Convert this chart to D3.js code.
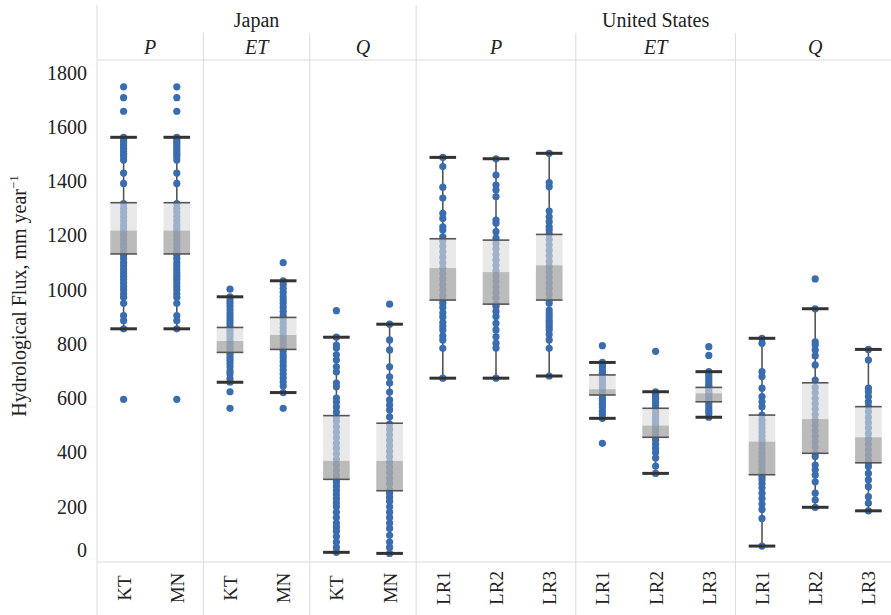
<!DOCTYPE html>
<html><head><meta charset="utf-8">
<script src="https://cdn.jsdelivr.net/npm/d3@7"></script>
<style>body{margin:0;background:#fff}svg{display:block;font-family:"Liberation Serif","DejaVu Serif",serif}</style>
</head><body><svg id="c" width="891" height="615"></svg>
<script>
const groups = ["Japan", "United States"];
const variables = ["P", "ET", "Q"];
const japanSites = ["KT", "MN"];
const usSites = ["LR1", "LR2", "LR3"];
const yTicks = [0, 200, 400, 600, 800, 1000, 1200, 1400, 1600, 1800];

// box statistics, order: Japan P/ET/Q (KT,MN), United States P/ET/Q (LR1,LR2,LR3)
const whiskLo = [856, 856, 659, 621, 32, 28, 674, 674, 682, 526, 323, 530, 55, 198, 185];
const q1      = [1132, 1132, 769, 780, 301, 259, 962, 947, 962, 612, 456, 587, 318, 397, 362];
const median  = [1218, 1218, 811, 833, 369, 369, 1080, 1065, 1090, 633, 499, 618, 440, 523, 456];
const q3      = [1321, 1321, 861, 898, 536, 508, 1188, 1183, 1204, 686, 563, 640, 538, 657, 569];
const whiskHi = [1562, 1562, 974, 1033, 825, 873, 1488, 1483, 1503, 732, 624, 698, 821, 930, 780];

const ptsJP_P_KT = [1748,1708,1658,1562,1555,1546,1538,1530,1520,1510,1500,1490,1478,1430,1392,1318,1300,1285,1270,1255,1240,1228,1215,1200,1185,1170,1155,1140,1128,1115,1100,1088,1075,1062,1050,1038,1025,1012,1000,985,972,950,905,886,856,596];
const ptsJP_P_MN = [1748,1708,1658,1562,1555,1546,1538,1530,1520,1510,1500,1490,1478,1430,1392,1318,1300,1285,1270,1255,1240,1228,1215,1200,1185,1170,1155,1140,1128,1115,1100,1088,1075,1062,1050,1038,1025,1012,1000,985,972,950,905,886,856,596];
const ptsJP_ET_KT = [1002,974,962,950,938,925,912,900,888,875,862,850,838,825,812,800,788,775,762,750,740,728,715,700,690,672,659,624,563];
const ptsJP_ET_MN = [1100,1033,1020,1005,990,975,962,950,935,920,905,890,875,860,845,830,815,800,788,775,760,748,735,720,705,690,675,660,645,621,563];
const ptsJP_Q_KT = [923,825,796,785,760,741,716,697,656,642,601,586,568,549,531,515,495,475,455,435,415,395,375,355,335,315,300,290,275,260,245,230,215,200,180,160,140,125,110,90,70,50,32];
const ptsJP_Q_MN = [947,873,815,778,716,679,656,623,594,575,557,531,505,485,465,445,425,405,385,365,345,325,305,285,262,250,235,220,200,180,160,140,120,95,70,50,28];
const ptsUS_P_LR1 = [1488,1454,1378,1338,1282,1263,1232,1220,1195,1180,1160,1140,1120,1100,1080,1060,1040,1020,1000,980,962,950,935,915,900,879,865,852,830,815,784,674];
const ptsUS_P_LR2 = [1483,1423,1386,1368,1343,1257,1245,1214,1190,1170,1150,1130,1110,1090,1070,1050,1030,1010,990,970,947,938,920,901,876,852,827,803,785,674];
const ptsUS_P_LR3 = [1503,1395,1380,1290,1269,1251,1232,1220,1205,1185,1165,1145,1125,1105,1085,1065,1045,1025,1005,985,962,950,925,912,901,888,876,864,852,835,815,784,682];
const ptsUS_ET_LR1 = [794,732,722,712,700,690,680,670,660,650,640,630,620,612,600,590,578,566,552,540,526,434];
const ptsUS_ET_LR2 = [773,624,615,605,596,585,575,563,550,540,530,520,510,500,490,478,466,456,445,430,415,400,380,350,323];
const ptsUS_ET_LR3 = [790,758,698,688,678,668,658,648,638,630,622,614,606,598,590,580,568,556,545,530];
const ptsUS_Q_LR1 = [821,803,698,680,637,606,587,569,538,520,505,490,475,460,445,430,415,400,385,370,355,340,325,311,300,285,270,250,230,210,190,157,55];
const ptsUS_Q_LR2 = [1040,930,808,796,778,756,723,667,640,620,600,580,560,540,520,500,480,460,440,420,397,385,354,336,317,292,250,225,198];
const ptsUS_Q_LR3 = [780,741,637,624,606,587,569,550,530,510,490,470,450,430,410,390,370,362,348,323,299,274,237,213,185];

const pointLists = [ptsJP_P_KT, ptsJP_P_MN, ptsJP_ET_KT, ptsJP_ET_MN, ptsJP_Q_KT, ptsJP_Q_MN,
  ptsUS_P_LR1, ptsUS_P_LR2, ptsUS_P_LR3, ptsUS_ET_LR1, ptsUS_ET_LR2, ptsUS_ET_LR3,
  ptsUS_Q_LR1, ptsUS_Q_LR2, ptsUS_Q_LR3];

const FONT = '"Liberation Serif", "DejaVu Serif", serif';

// build categories
const cats = [];
groups.forEach((g, gi) => {
  const sites = gi === 0 ? japanSites : usSites;
  variables.forEach(v => sites.forEach(s => cats.push({group: g, variable: v, site: s, key: g + "|" + v + "|" + s})));
});
cats.forEach((c, i) => {
  c.lo = whiskLo[i]; c.q1 = q1[i]; c.med = median[i]; c.q3 = q3[i]; c.hi = whiskHi[i]; c.pts = pointLists[i];
});

const svg = d3.select("#c");
const x = d3.scaleBand().domain(cats.map(c => c.key)).range([97, 895]).paddingInner(0);
const y = d3.scaleLinear().domain([0, 1800]).range([561, 72.75]);
const bw = x.bandwidth() * 0.5;
const cx = c => x(c.key) + x.bandwidth() / 2;

const gridCol = "#dcdcdc";
const panels = [];
cats.forEach(c => {
  const pk = c.group + "|" + c.variable;
  let p = panels.find(d => d.key === pk);
  if (!p) { p = {key: pk, group: c.group, variable: c.variable, x0: x(c.key), x1: x(c.key) + x.bandwidth()}; panels.push(p); }
  else p.x1 = x(c.key) + x.bandwidth();
});
const groupExt = groups.map(g => {
  const ps = panels.filter(p => p.group === g);
  return {group: g, x0: d3.min(ps, p => p.x0), x1: d3.max(ps, p => p.x1)};
});

const grid = svg.append("g");
panels.forEach(p => {
  const isGroupStart = groupExt.some(g => Math.abs(g.x0 - p.x0) < 0.5);
  grid.append("line").attr("x1", p.x0).attr("x2", p.x0).attr("y1", isGroupStart ? 5 : 33).attr("y2", 615)
    .attr("stroke", gridCol).attr("stroke-width", 1);
});
grid.append("line").attr("x1", 97).attr("x2", 891).attr("y1", 60).attr("y2", 60).attr("stroke", gridCol);
grid.append("line").attr("x1", 97).attr("x2", 891).attr("y1", 562).attr("y2", 562).attr("stroke", gridCol);

// headers
groupExt.forEach(g => {
  svg.append("text").attr("x", (g.x0 + g.x1) / 2).attr("y", 27)
    .attr("text-anchor", "middle").attr("font-size", 20).attr("fill", "#222").style("font-family", FONT).text(g.group);
});
panels.forEach(p => {
  svg.append("text").attr("x", (p.x0 + p.x1) / 2).attr("y", 54).attr("text-anchor", "middle")
    .attr("font-size", 20).attr("font-style", "italic").attr("fill", "#222").style("font-family", FONT).text(p.variable);
});

// y axis
const yAxis = svg.append("g").attr("transform", "translate(97,0)")
  .call(d3.axisLeft(y).tickValues(yTicks).tickSize(0).tickPadding(10).tickFormat(d3.format("d")));
yAxis.attr("font-family", null).style("font-family", FONT);
yAxis.select(".domain").remove();
yAxis.selectAll("text").attr("font-size", 20).attr("fill", "#222").style("font-family", FONT)
  .attr("dy", d => d === 0 ? "-0.25em" : "0.32em");

svg.append("text").attr("transform", "translate(26,296) rotate(-90)").attr("text-anchor", "middle")
  .attr("font-size", 20).attr("fill", "#222").style("font-family", FONT)
  .call(t => { t.append("tspan").text("Hydrological Flux, mm year"); t.append("tspan").attr("font-size", 13).attr("dy", -8).text("−1"); });

// x labels
cats.forEach(c => {
  svg.append("text").attr("transform", `translate(${cx(c) + 7},588) rotate(-90)`).attr("text-anchor", "middle")
    .attr("font-size", 19).attr("fill", "#222").style("font-family", FONT).text(c.site);
});

// boxes
const g = svg.append("g");
cats.forEach(c => {
  const xc = cx(c);
  g.append("line").attr("x1", xc).attr("x2", xc).attr("y1", y(c.hi)).attr("y2", y(c.lo)).attr("stroke", "#555").attr("stroke-width", 1.6);
  g.selectAll(null).data(c.pts).join("circle").attr("cx", xc).attr("cy", d => y(d)).attr("r", 3.6).attr("fill", "#3a6db0");
  g.append("rect").attr("x", xc - bw / 2).attr("width", bw).attr("y", y(c.q3)).attr("height", y(c.q1) - y(c.q3))
    .attr("fill", "#dcdcdc").attr("fill-opacity", 0.62);
  g.append("rect").attr("x", xc - bw / 2).attr("width", bw).attr("y", y(c.med)).attr("height", y(c.q1) - y(c.med))
    .attr("fill", "#8a8a8a").attr("fill-opacity", 0.48);
  [c.q3, c.q1].forEach(v => g.append("line").attr("x1", xc - bw / 2).attr("x2", xc + bw / 2).attr("y1", y(v)).attr("y2", y(v))
    .attr("stroke", "#555").attr("stroke-width", 1.6));
  [c.hi, c.lo].forEach(v => g.append("line").attr("x1", xc - bw / 2).attr("x2", xc + bw / 2).attr("y1", y(v)).attr("y2", y(v))
    .attr("stroke", "#333").attr("stroke-width", 3));
});
</script></body></html>
